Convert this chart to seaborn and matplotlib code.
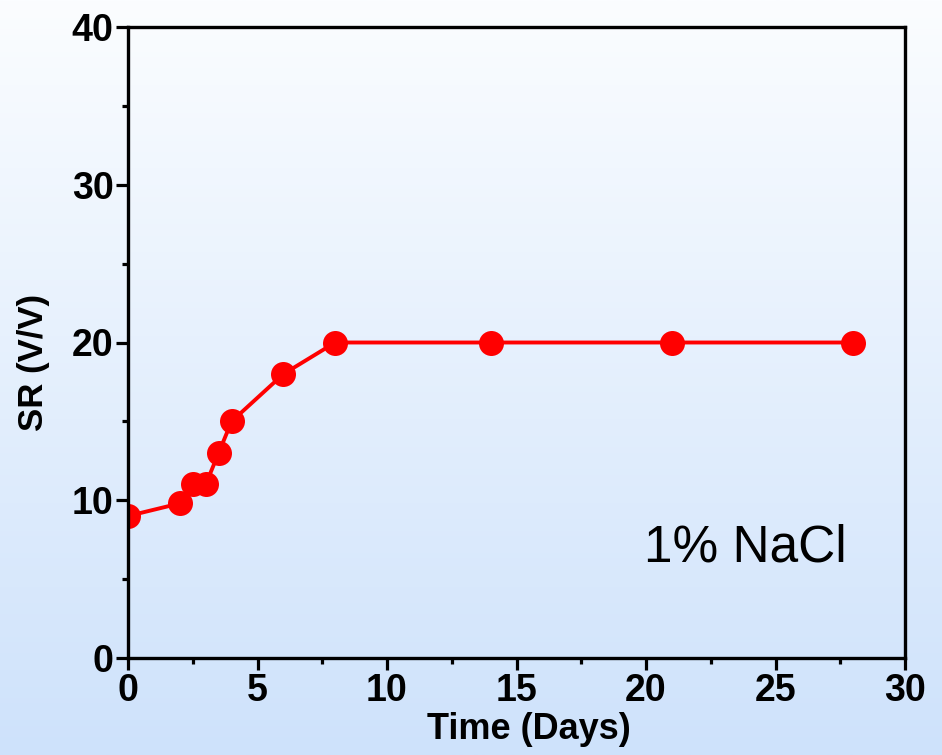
import numpy as np
import pandas as pd
import matplotlib
matplotlib.use("Agg")
import matplotlib.pyplot as plt
import seaborn as sns
from matplotlib.ticker import MultipleLocator

# ---- data ----
time_days = [0, 2, 2.5, 3, 3.5, 4, 6, 8, 14, 21, 28]
sr_values = [9, 9.8, 11, 11, 13, 15, 18, 20, 20, 20, 20]
x_ticks = [0, 5, 10, 15, 20, 25, 30]
y_ticks = [0, 10, 20, 30, 40]
annotation = "1% NaCl"

sns.set_style("ticks")
plt.rcParams['font.family'] = ['Liberation Sans', 'DejaVu Sans']
plt.rcParams['text.color'] = 'black'
plt.rcParams['axes.labelcolor'] = 'black'
plt.rcParams['xtick.color'] = 'black'
plt.rcParams['ytick.color'] = 'black'

fig = plt.figure(figsize=(9.42, 7.55), dpi=100)

# background gradient
bg = fig.add_axes([0, 0, 1, 1], zorder=-10)
top = np.array([251, 253, 255]) / 255.0
bot = np.array([206, 226, 251]) / 255.0
t = np.linspace(0, 1, 256)[:, None]
grad = top[None, :] * (1 - t) + bot[None, :] * t
bg.imshow(grad[:, None, :], aspect='auto', extent=[0, 1, 0, 1], origin='upper')
bg.set_axis_off()

ax = fig.add_axes([128/942, 1 - 658/755, (905-128)/942, (658-27)/755])
ax.set_facecolor('none')

df = pd.DataFrame({"Time": time_days, "SR": sr_values})
sns.lineplot(data=df, x="Time", y="SR", ax=ax, color='#ff0000', linewidth=2.8,
             marker='o', markersize=18, markeredgewidth=0, markerfacecolor='#ff0000')

ax.set_xlim(0, 30)
ax.set_ylim(0, 40)
ax.set_xticks(x_ticks)
ax.set_yticks(y_ticks)
ax.xaxis.set_minor_locator(MultipleLocator(2.5))
ax.yaxis.set_minor_locator(MultipleLocator(5))
ax.tick_params(which='major', direction='out', length=8.5, width=2.3, labelsize=27,
               pad=2, colors='black')
ax.tick_params(which='minor', direction='out', length=4.3, width=2.3, colors='black')
for lbl in ax.get_xticklabels() + ax.get_yticklabels():
    lbl.set_fontweight('bold')
for sp in ax.spines.values():
    sp.set_visible(True)
    sp.set_linewidth(2.4)
    sp.set_color('black')

ax.set_xlabel("Time (Days)", fontsize=26, fontweight='bold', color='black')
ax.set_ylabel("SR (V/V)", fontsize=25, fontweight='bold', color='black')
ax.xaxis.set_label_coords(0.516, -0.086)
ax.yaxis.set_label_coords(-0.100, 0.469)

ax.text(0.795, 0.175, annotation, transform=ax.transAxes, fontsize=37,
        ha='center', va='center', color='black')

fig.savefig("out.png", dpi=100)
